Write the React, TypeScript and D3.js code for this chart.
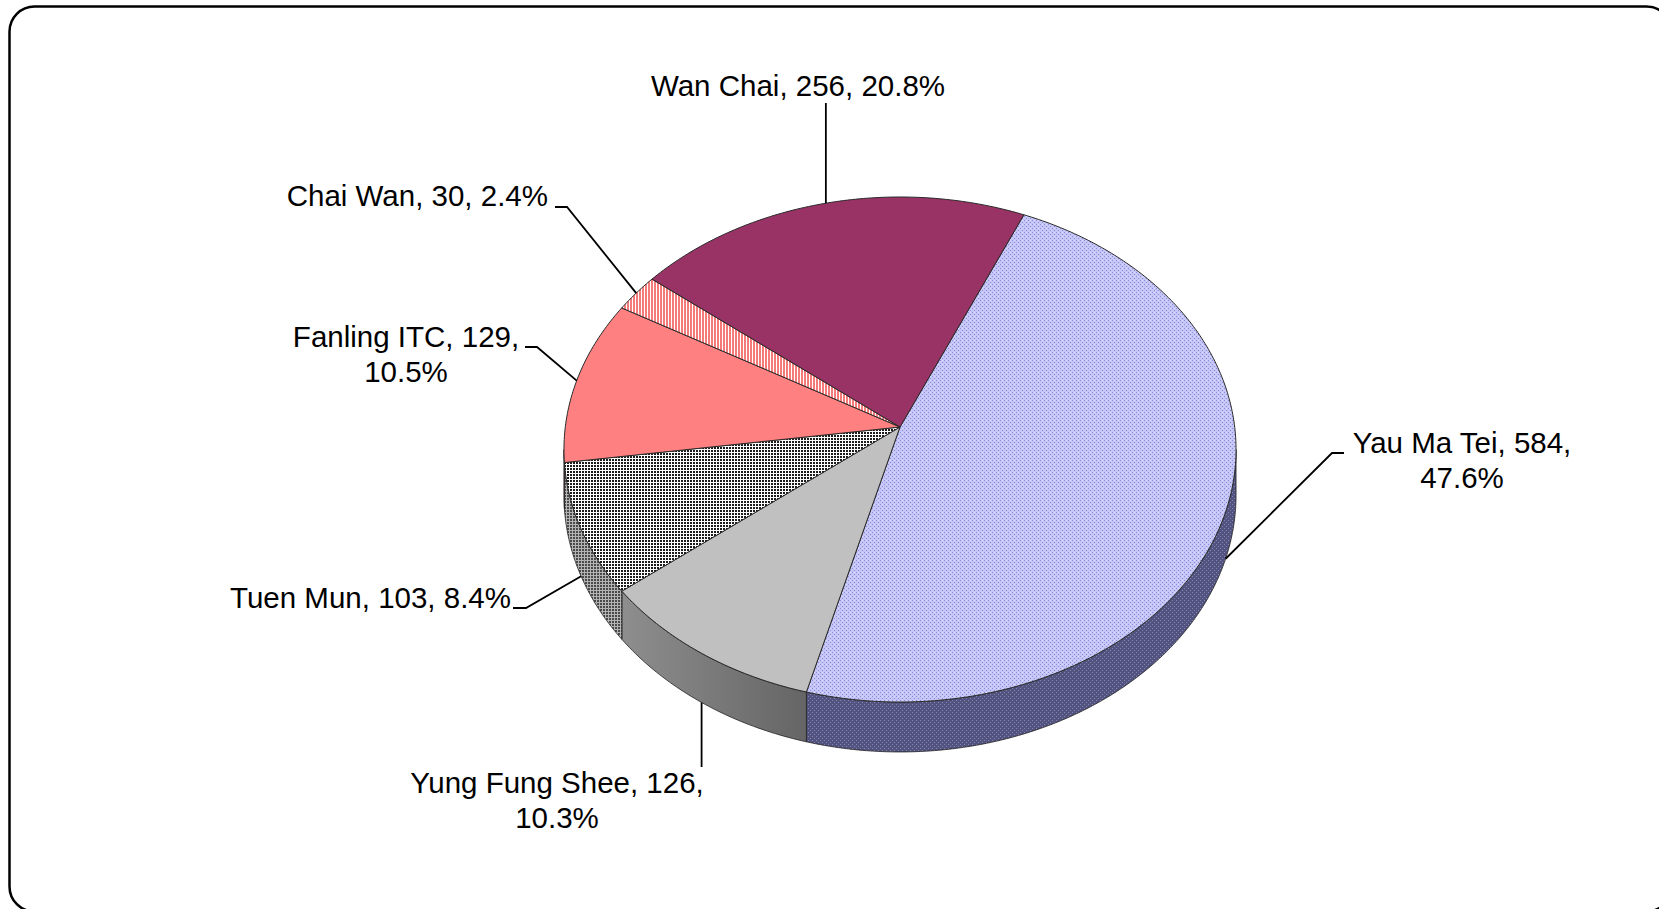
import React from "react";
import * as d3 from "d3";

// slices in clockwise drawing order, starting from the first slice angle
const districts = ["Yau Ma Tei", "Yung Fung Shee", "Tuen Mun", "Fanling ITC", "Chai Wan", "Wan Chai"];
const counts = [584, 126, 103, 129, 30, 256];
const firstSliceAngle = 23.6; // degrees clockwise from 12 o'clock

const W = 1659, H = 909;

// 3D look: a perspective projection of a flat disc
const CX = 900, CY = 427, RX = 334.7, RY = 250.5, K = 0.0891, DEPTH = 45.5;

function proj(theta: number, drop = 0): [number, number] {
    const u = Math.sin(theta), v = -Math.cos(theta);
    const w = 1 - K * v;
    return [CX + (RX * u) / w, CY + (RY * v + drop) / w];
}

function arcPoints(s: number, e: number, drop = 0) {
    const n = Math.max(2, Math.ceil(Math.abs(e - s) / (Math.PI / 240)));
    return d3.range(n + 1).map(i => proj(s + ((e - s) * i) / n, drop));
}

const topFill = ["url(#yauTop)", "#c0c0c0", "url(#tuenTop)", "#ff8080", "url(#chaiTop)", "#993366"];
const sideFill = ["url(#yauSide)", "url(#grayGrad)", "url(#tuenSide)", "#b86060", "#c06060", "#5c1f3d"];

// label placement (layout only)
const labelLayout = [
    { x: 1462, y: 453, anchor: "middle", wrap: true, elbow: [[1344, 453], [1332, 453]], bottom: true },
    { x: 557, y: 793, anchor: "middle", wrap: true, elbow: "v767", bottom: true },
    { x: 511, y: 608, anchor: "end", wrap: false, elbow: [[513, 608], [526, 608]], bottom: true },
    { x: 406, y: 347, anchor: "middle", wrap: true, elbow: [[525, 347], [537, 347]], bottom: false },
    { x: 548, y: 206, anchor: "end", wrap: false, elbow: [[555, 207], [567, 207]], bottom: false },
    { x: 798, y: 96, anchor: "middle", wrap: false, elbow: "v103", bottom: false },
];

export default function App() {
    const total = d3.sum(counts);
    const fmtPct = d3.format(".1%");
    const start = (firstSliceAngle * Math.PI) / 180;
    const arcs = d3.pie<number>().sort(null).value(d => d).startAngle(start).endAngle(start + 2 * Math.PI)(counts);

    const line = d3.line();
    // visible part of the outer wall
    const visMin = Math.acos(-K), visMax = 2 * Math.PI - Math.acos(-K);

    const walls = arcs.map((a, i) => {
        const s = Math.max(a.startAngle, visMin), e = Math.min(a.endAngle, visMax);
        if (e <= s) return null;
        const pts = [...arcPoints(s, e), ...arcPoints(e, s, DEPTH)];
        return <path key={"w" + i} d={line(pts) + "Z"} fill={sideFill[i]} stroke="#222" strokeWidth={0.8} />;
    });

    const tops = arcs.map((a, i) => {
        const pts = [[CX, CY] as [number, number], ...arcPoints(a.startAngle, a.endAngle)];
        return <path key={"t" + i} d={line(pts) + "Z"} fill={topFill[i]} stroke="#2a2a2a" strokeWidth={1} strokeLinejoin="round" />;
    });

    const labels = arcs.map((a, i) => {
        const L = labelLayout[i];
        const mid = (a.startAngle + a.endAngle) / 2;
        const target = proj(mid, L.bottom ? DEPTH : 0);
        const head = `${districts[i]}, ${counts[i]},`;
        const pct = fmtPct(counts[i] / total);
        const lines = L.wrap ? [head, pct] : [`${head} ${pct}`];
        let leader: [number, number][];
        if (typeof L.elbow === "string") {
            const y0 = +L.elbow.slice(1);
            leader = [[target[0], y0], target];
        } else {
            leader = [...(L.elbow as [number, number][]), target];
        }
        return (
            <g key={"l" + i}>
                <path d={line(leader) ?? ""} fill="none" stroke="#000" strokeWidth={1.8} />
                <text x={L.x} y={L.y} textAnchor={L.anchor as any} fontSize={29.5}
                    fontFamily="'Liberation Sans', Arial, sans-serif" fill="#000">
                    {lines.map((t, j) => (
                        <tspan key={j} x={L.x} dy={j === 0 ? 0 : 34.5}>{t}</tspan>
                    ))}
                </text>
            </g>
        );
    });

    return (
        <svg width={W} height={H} style={{ position: "absolute", left: 0, top: 0, background: "#fff" }}>
            <defs>
                <pattern id="yauTop" width={4} height={4} patternUnits="userSpaceOnUse">
                    <rect width={4} height={4} fill="#c6c6f6" />
                    <rect x={0} y={0} width={1} height={1} fill="#8a8ae0" />
                    <rect x={2} y={2} width={1} height={1} fill="#8a8ae0" />
                    <rect x={2} y={0} width={1} height={1} fill="#dcdcff" />
                </pattern>
                <pattern id="yauSide" width={4} height={4} patternUnits="userSpaceOnUse">
                    <rect width={4} height={4} fill="#535380" />
                    <rect x={0} y={0} width={1} height={1} fill="#8585b5" />
                    <rect x={2} y={2} width={1} height={1} fill="#8585b5" />
                </pattern>
                <pattern id="tuenTop" width={3} height={3} patternUnits="userSpaceOnUse">
                    <rect width={3} height={3} fill="#ffffff" />
                    <rect x={0} y={0} width={2} height={2} fill="#1c1c1c" />
                </pattern>
                <pattern id="tuenSide" width={3} height={3} patternUnits="userSpaceOnUse">
                    <rect width={3} height={3} fill="#b4b4b4" />
                    <rect x={0} y={0} width={2} height={2} fill="#4a4a4a" />
                </pattern>
                <pattern id="chaiTop" width={3} height={3} patternUnits="userSpaceOnUse">
                    <rect width={3} height={3} fill="#ffffff" />
                    <rect x={0} y={0} width={2} height={3} fill="#f57a7a" />
                </pattern>
                <linearGradient id="grayGrad" x1="0" x2="1" y1="0" y2="0">
                    <stop offset="0%" stopColor="#8e8e8e" />
                    <stop offset="100%" stopColor="#656565" />
                </linearGradient>
            </defs>
            <rect x={9.5} y={6.5} width={1662} height={905} rx={25} ry={25} fill="none" stroke="#000" strokeWidth={2.5} />
            {walls}
            {tops}
            {labels}
        </svg>
    );
}
